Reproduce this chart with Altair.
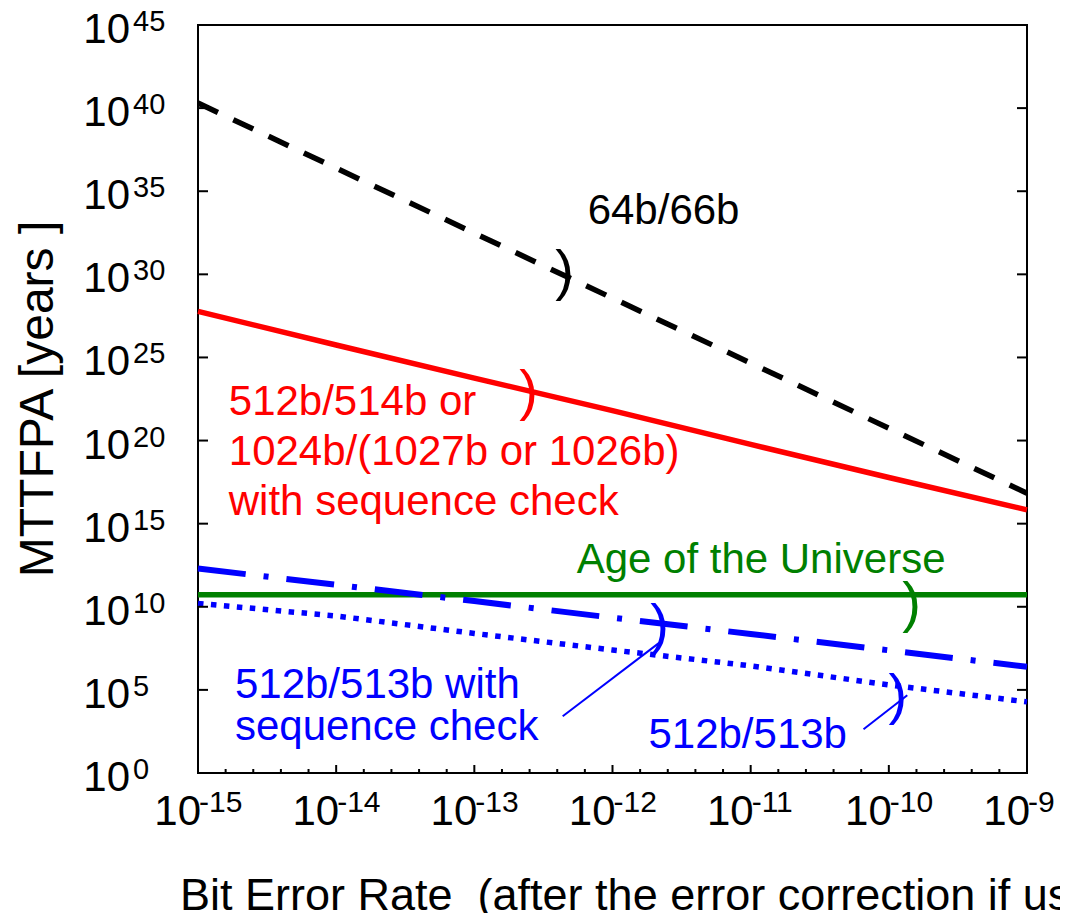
import altair as alt
import pandas as pd

# ---------------- data ----------------
ber = [1e-15, 1e-14, 1e-13, 1e-12, 1e-11, 1e-10, 1e-9]
mttfpa_64b66b = [2.0e40, 2.45e36, 3.0e32, 3.7e28, 4.6e24, 5.5e20, 6.8e16]
mttfpa_512b514b_seq = [5.9e27, 5.6e25, 5.75e23, 6.3e21, 5.9e19, 6.0e17, 6.8e15]
ber_universe = [1e-15, 1e-9]
age_of_universe = [5.25e10, 5.25e10]
mttfpa_512b513b_seq = [2.0e12, 2.1e11, 2.2e10, 2.2e9, 2.3e8, 2.4e7, 2.45e6]
mttfpa_512b513b = [1.6e10, 2.8e9, 2.5e8, 2.5e7, 2.8e6, 2.0e5, 1.9e4]

x_tick_values = [1e-15, 1e-14, 1e-13, 1e-12, 1e-11, 1e-10, 1e-9]
x_tick_exponents = ["-15", "-14", "-13", "-12", "-11", "-10", "-9"]
y_tick_values = [1e0, 1e5, 1e10, 1e15, 1e20, 1e25, 1e30, 1e35, 1e40, 1e45]
y_tick_exponents = ["0", "5", "10", "15", "20", "25", "30", "35", "40", "45"]
x_minor_ticks = [10 ** (d + f) for d in range(-15, -9) for f in (0.2, 0.4, 0.6, 0.8)]

ann_text = ["64b/66b", "512b/514b or", "1024b/(1027b or 1026b)", "with sequence check",
            "Age of the Universe", "512b/513b with", "sequence check", "512b/513b"]
ann_x = [6.61e-13, 1.67e-15, 1.67e-15, 1.67e-15, 5.5e-13, 1.85e-15, 1.85e-15, 1.82e-12]
ann_y = [1.05e33, 3.4e21, 3.3e18, 3.2e15, 1.05e12, 3.2e4, 93, 31]
ann_color = ["black", "#ff0000", "#ff0000", "#ff0000", "#008000", "#0000ff", "#0000ff", "#0000ff"]

brace_x = [4.5e-13, 2.47e-13, 1.46e-10, 2.19e-12, 1.16e-10]
brace_y = [1.38e30, 8.3e22, 1.41e10, 6.8e8, 4.2e4]
brace_color = ["black", "#ff0000", "#008000", "#0000ff", "#0000ff"]

leader_x = [4.36e-13, 6.56e-11]
leader_y = [2.6e3, 430]
leader_x2 = [2.31e-12, 1.36e-10]
leader_y2 = [9.8e7, 4.8e4]

W, H = 829, 748
FONT = "Liberation Sans"

xs = alt.Scale(type="log", domain=[1e-15, 1e-9], nice=False)
ys = alt.Scale(type="log", domain=[1, 1e45], nice=False)


def X(f="x"):
    return alt.X(f"{f}:Q", scale=xs, axis=None)


def Y(f="y"):
    return alt.Y(f"{f}:Q", scale=ys, axis=None)


def series(xv, yv):
    return pd.DataFrame({"x": xv, "y": yv})


layers = []

# curves
layers.append(alt.Chart(series(ber, mttfpa_64b66b)).mark_line(
    color="black", strokeWidth=5.5, strokeDash=[22, 17], strokeCap="butt").encode(x=X(), y=Y()))
layers.append(alt.Chart(series(ber, mttfpa_512b514b_seq)).mark_line(
    color="#ff0000", strokeWidth=5.5).encode(x=X(), y=Y()))
layers.append(alt.Chart(series(ber_universe, age_of_universe)).mark_line(
    color="#008000", strokeWidth=5.5).encode(x=X(), y=Y()))
layers.append(alt.Chart(series(ber, mttfpa_512b513b_seq)).mark_line(
    color="#0000ff", strokeWidth=6, strokeDash=[48, 18, 5, 18], strokeCap="butt").encode(x=X(), y=Y()))
layers.append(alt.Chart(series(ber, mttfpa_512b513b)).mark_line(
    color="#0000ff", strokeWidth=5.5, strokeDash=[5.5, 7.5], strokeCap="butt").encode(x=X(), y=Y()))

# leader lines
lead_df = pd.DataFrame({"x": leader_x, "y": leader_y, "x2": leader_x2, "y2": leader_y2})
layers.append(alt.Chart(lead_df).mark_rule(color="#0000ff", strokeWidth=2).encode(
    x=X(), y=Y(), x2="x2:Q", y2="y2:Q"))

# braces
br_df = pd.DataFrame({"x": brace_x, "y": brace_y, "c": brace_color})
layers.append(alt.Chart(br_df).mark_text(
    text=")", font=FONT, fontSize=56, align="center", baseline="middle").encode(
    x=X(), y=Y(), color=alt.Color("c:N", scale=None)))

# annotation texts
ann_df = pd.DataFrame({"x": ann_x, "y": ann_y, "t": ann_text, "c": ann_color})
layers.append(alt.Chart(ann_df).mark_text(
    font=FONT, fontSize=42, align="left", baseline="alphabetic").encode(
    x=X(), y=Y(), text="t:N", color=alt.Color("c:N", scale=None)))

# ticks
ydf = pd.DataFrame({"y": y_tick_values, "e": y_tick_exponents})
xdf = pd.DataFrame({"x": x_tick_values, "e": x_tick_exponents})
mdf = pd.DataFrame({"x": x_minor_ticks})
layers.append(alt.Chart(ydf).mark_rule(color="black", strokeWidth=2).encode(
    y=Y(), x=alt.value(0), x2=alt.value(10)))
layers.append(alt.Chart(ydf).mark_rule(color="black", strokeWidth=2).encode(
    y=Y(), x=alt.value(W - 10), x2=alt.value(W)))
layers.append(alt.Chart(xdf).mark_rule(color="black", strokeWidth=2).encode(
    x=X(), y=alt.value(H), y2=alt.value(H - 8)))
layers.append(alt.Chart(mdf).mark_rule(color="black", strokeWidth=2).encode(
    x=X(), y=alt.value(H), y2=alt.value(H - 4)))

# tick labels (10 with superscript exponent)
layers.append(alt.Chart(ydf).mark_text(
    text="10", font=FONT, fontSize=42, align="right", baseline="alphabetic", dy=18).encode(
    y=Y(), x=alt.value(-68)))
layers.append(alt.Chart(ydf).mark_text(
    font=FONT, fontSize=29, align="left", baseline="alphabetic", dy=6).encode(
    y=Y(), x=alt.value(-65), text="e:N"))
layers.append(alt.Chart(xdf).mark_text(
    text="10", font=FONT, fontSize=42, align="right", baseline="alphabetic", dx=3).encode(
    x=X(), y=alt.value(H + 52)))
layers.append(alt.Chart(xdf).mark_text(
    font=FONT, fontSize=30, align="left", baseline="alphabetic", dx=1).encode(
    x=X(), y=alt.value(H + 39), text="e:N"))

# axis titles
title_df = pd.DataFrame({"t": ["MTTFPA [years ]"]})
layers.append(alt.Chart(title_df).mark_text(
    font=FONT, fontSize=48, align="center", baseline="alphabetic", angle=270).encode(
    x=alt.value(-145), y=alt.value(H / 2), text="t:N"))
xt_df = pd.DataFrame({"t": ["Bit Error Rate\u00a0 (after the error correction if used)"]})
layers.append(alt.Chart(xt_df).mark_text(
    font=FONT, fontSize=45, align="left", baseline="alphabetic").encode(
    x=alt.value(-18), y=alt.value(885), text="t:N"))

chart = alt.layer(*layers).properties(
    width=W, height=H,
    padding={"left": 190, "top": 17, "right": 33, "bottom": 140},
    autosize=alt.AutoSizeParams(type="none"),
).configure_view(stroke="black", strokeWidth=2)

chart.save("out.html", embed_options={"renderer": "svg", "actions": False})
